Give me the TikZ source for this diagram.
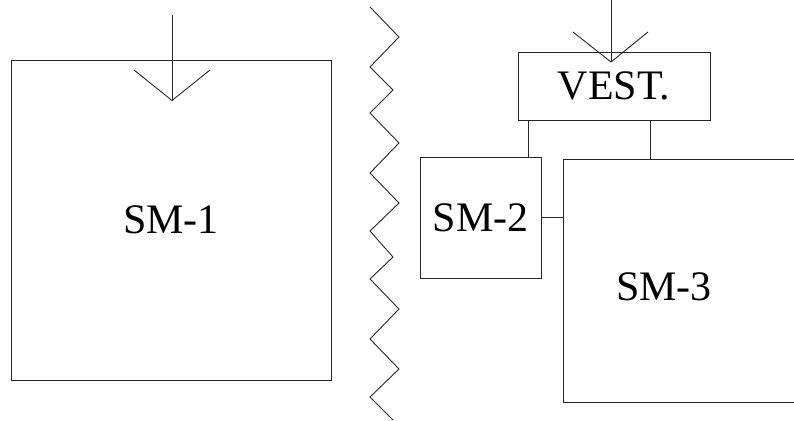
\documentclass[tikz,border=0pt]{standalone}
\usepackage{fontspec}
\setmainfont{Liberation Serif}
\begin{document}
\begin{tikzpicture}[x=1pt,y=-1pt,
  ln/.style={line width=0.9pt,draw=black!85},
  blk/.style={ln,rectangle,inner sep=0pt,font=\fontsize{42}{48}\selectfont},
  lbl/.style={inner sep=0pt,font=\fontsize{42}{48}\selectfont}]
\useasboundingbox (0,0) rectangle (794,420);
\clip (0,0) rectangle (794,420);
% boxes
\node[blk,minimum width=320pt,minimum height=320pt] (sm1) at (171,220) {SM-1};
\node[blk,minimum width=192pt,minimum height=68pt] (vest) at (614,86) {VEST.};
\node[blk,minimum width=121pt,minimum height=121pt] (sm2) at (480.5,217.5) {SM-2};
\node[blk,minimum width=257pt,minimum height=243pt] (sm3) at (691.5,280.5) {};
\node[lbl] (sm3t) at (664,287) {SM-3};
% arrow into SM-1
\coordinate (a1s) at (172,15);
\coordinate (a1t) at (172,100.5);
\coordinate (a1l) at (134,70);
\coordinate (a1r) at (210,70);
\draw[ln] (a1s) -- (a1t);
\draw[ln] (a1l) -- (a1t) -- (a1r);
% arrow into VEST
\coordinate (a2s) at (611,0);
\coordinate (a2t) at (611,62);
\coordinate (a2l) at (573,32);
\coordinate (a2r) at (648,32);
\draw[ln] (a2s) -- (a2t);
\draw[ln] (a2l) -- (a2t) -- (a2r);
% connectors
\draw[ln] ([xshift=11pt]vest.south west) -- ([xshift=11pt]vest.south west |- sm2.north);
\draw[ln] ([xshift=133pt]vest.south west) -- ([xshift=133pt]vest.south west |- sm3.north);
\draw[ln] (sm2.east) -- (sm2.east -| sm3.west);
% zigzag break line
\draw[ln] (370,7) -- (399,37) -- (370,67) -- (393,90) -- (370,113) -- (399,143)
  -- (370,173) -- (399,203) -- (370,231) -- (393,257) -- (370,279) -- (399,309)
  -- (370,339) -- (399,369) -- (370,397) -- (393,420);
\end{tikzpicture}
\end{document}
